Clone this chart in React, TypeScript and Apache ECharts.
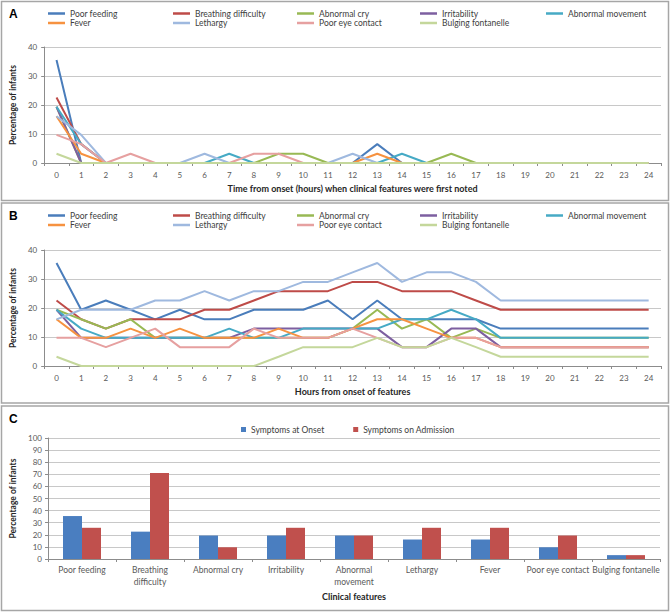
import React, { useEffect, useRef } from "react";
import * as echarts from "echarts";

// ---------- data ----------
const hours = ["0","1","2","3","4","5","6","7","8","9","10","11","12","13","14","15","16","17","18","19","20","21","22","23","24"];
const featureNames = ["Poor feeding","Breathing difficulty","Abnormal cry","Irritability","Abnormal movement","Fever","Lethargy","Poor eye contact","Bulging fontanelle"];
const barCategories = ["Poor feeding","Breathing\ndifficulty","Abnormal cry","Irritability","Abnormal\nmovement","Lethargy","Fever","Poor eye contact","Bulging fontanelle"];
const yTicksLines = [0, 10, 20, 30, 40];

// Panel A: time first noted
const aPoorFeeding = [35.5,0,0,0,0,0,0,0,0,0,0,0,0,6.5,0,0,0,0,0,0,0,0,0,0,0];
const aBreathing = [22.6,6.5,0,0,0,0,0,0,0,0,0,0,0,0,0,0,0,0,0,0,0,0,0,0,0];
const aAbnormalCry = [19.4,0,0,0,0,0,0,0,0,3.2,3.2,0,0,0,0,0,3.2,0,0,0,0,0,0,0,0];
const aIrritability = [19.4,0,0,0,0,0,0,0,0,0,0,0,0,0,0,0,0,0,0,0,0,0,0,0,0];
const aAbnormalMovement = [19.4,6.5,0,0,0,0,0,3.2,0,0,0,0,0,0,3.2,0,0,0,0,0,0,0,0,0,0];
const aFever = [16.1,3.2,0,0,0,0,0,0,0,0,0,0,0,3.2,0,0,0,0,0,0,0,0,0,0,0];
const aLethargy = [16.1,9.7,0,0,0,0,3.2,0,0,0,0,0,3.2,0,0,0,0,0,0,0,0,0,0,0,0];
const aPoorEye = [9.7,6.5,0,3.2,0,0,0,0,3.2,3.2,0,0,0,0,0,0,0,0,0,0,0,0,0,0,0];
const aBulging = [3.2,0,0,0,0,0,0,0,0,0,0,0,0,0,0,0,0,0,0,0,0,0,0,0,0];

// Panel B: hours from onset
const bPoorFeeding = [35.5,19.4,22.6,19.4,16.1,19.4,16.1,16.1,19.4,19.4,19.4,22.6,16.1,22.6,16.1,16.1,16.1,16.1,12.9,12.9,12.9,12.9,12.9,12.9,12.9];
const bBreathing = [22.6,16.1,12.9,16.1,16.1,16.1,19.4,19.4,22.6,25.8,25.8,25.8,29,29,25.8,25.8,25.8,22.6,19.4,19.4,19.4,19.4,19.4,19.4,19.4];
const bAbnormalCry = [19.4,16.1,12.9,16.1,9.7,9.7,9.7,9.7,9.7,9.7,9.7,9.7,12.9,19.4,12.9,16.1,9.7,12.9,9.7,9.7,9.7,9.7,9.7,9.7,9.7];
const bIrritability = [19.4,9.7,9.7,9.7,9.7,9.7,9.7,9.7,12.9,12.9,12.9,12.9,12.9,12.9,6.5,6.5,12.9,12.9,6.5,6.5,6.5,6.5,6.5,6.5,6.5];
const bAbnormalMovement = [19.4,12.9,9.7,9.7,9.7,9.7,9.7,12.9,9.7,9.7,12.9,12.9,12.9,12.9,16.1,16.1,19.4,16.1,9.7,9.7,9.7,9.7,9.7,9.7,9.7];
const bFever = [16.1,9.7,9.7,12.9,9.7,12.9,9.7,9.7,9.7,12.9,9.7,9.7,12.9,16.1,16.1,12.9,9.7,9.7,6.5,6.5,6.5,6.5,6.5,6.5,6.5];
const bLethargy = [16.1,19.4,19.4,19.4,22.6,22.6,25.8,22.6,25.8,25.8,29,29,32.3,35.5,29,32.3,32.3,29,22.6,22.6,22.6,22.6,22.6,22.6,22.6];
const bPoorEye = [9.7,9.7,6.5,9.7,12.9,6.5,6.5,6.5,12.9,9.7,9.7,9.7,12.9,9.7,6.5,6.5,9.7,9.7,6.5,6.5,6.5,6.5,6.5,6.5,6.5];
const bBulging = [3.2,0,0,0,0,0,0,0,0,3.2,6.5,6.5,6.5,9.7,6.5,6.5,9.7,6.5,3.2,3.2,3.2,3.2,3.2,3.2,3.2];

// Panel C
const onsetValues = [35.5,22.6,19.4,19.4,19.4,16.1,16.1,9.7,3.2];
const admissionValues = [25.8,71,9.7,25.8,19.4,25.8,25.8,19.4,3.2];

const seriesA = [aPoorFeeding,aBreathing,aAbnormalCry,aIrritability,aAbnormalMovement,aFever,aLethargy,aPoorEye,aBulging];
const seriesB = [bPoorFeeding,bBreathing,bAbnormalCry,bIrritability,bAbnormalMovement,bFever,bLethargy,bPoorEye,bBulging];

// ---------- styles ----------
const lineColors = ["#4A7DBB","#BE4B48","#98B954","#7D5FA0","#46AAC5","#F69240","#9FB9DF","#E6A0A0","#C4D79B"];
const FONT = "Lato, 'Liberation Sans', sans-serif";
const axisColor = "#8C8C8C";
const labelColor = "#595959";
const gridColor = "#C8C8C8";

const legendCols = [["Poor feeding","Fever"],["Breathing difficulty","Lethargy"],["Abnormal cry","Poor eye contact"],["Irritability","Bulging fontanelle"],["Abnormal movement"]];
const legendColX = [48,173,297,420,546];

export default function App() {
  const ref = useRef<HTMLDivElement>(null);
  useEffect(() => {
    if (!ref.current) return;
    const chart = echarts.init(ref.current, null, { renderer: "svg" });

    const legends: any[] = [];
    [9, 211].forEach((top) => {
      legendCols.forEach((col, ci) => {
        legends.push({
          orient: "vertical",
          left: legendColX[ci],
          top,
          padding: 0,
          itemGap: 0.5,
          itemWidth: 17,
          itemHeight: 2.5,
          icon: "rect",
          selectedMode: false,
          data: col,
          textStyle: { fontSize: 8.5, lineHeight: 9, color: "#404040", fontFamily: FONT },
        });
      });
    });
    legends.push({
      orient: "horizontal",
      left: 241,
      top: 425,
      padding: 0,
      itemGap: 29,
      itemWidth: 5,
      itemHeight: 5,
      icon: "rect",
      selectedMode: false,
      data: ["Symptoms at Onset", "Symptoms on Admission"],
      textStyle: { fontSize: 8.5, color: "#404040", fontFamily: FONT },
    });

    const lineX = (gi: number, name: string) => ({
      gridIndex: gi,
      type: "category",
      data: hours,
      boundaryGap: true,
      axisLine: { show: true, lineStyle: { color: axisColor } },
      axisTick: { show: true, length: 3, lineStyle: { color: axisColor } },
      axisLabel: { interval: 0, fontSize: 8, color: labelColor, margin: 8, fontFamily: FONT },
      name,
      nameLocation: "middle",
      nameGap: 20.5,
      nameTextStyle: { fontSize: 9, fontWeight: "bold", color: "#262626", fontFamily: FONT },
    });
    const lineY = (gi: number) => ({
      gridIndex: gi,
      type: "value",
      min: yTicksLines[0],
      max: yTicksLines[yTicksLines.length - 1],
      interval: 10,
      axisLine: { show: true, lineStyle: { color: axisColor } },
      axisTick: { show: true, length: 3, lineStyle: { color: axisColor } },
      axisLabel: { fontSize: 8, color: labelColor, margin: 7, fontFamily: FONT },
      splitLine: { show: true, lineStyle: { color: gridColor, width: 1.2 } },
      name: "Percentage of infants",
      nameLocation: "middle",
      nameGap: 22,
      nameTextStyle: { fontSize: 8.5, fontWeight: "bold", color: "#262626", fontFamily: FONT },
    });

    const series: any[] = [];
    [seriesA, seriesB].forEach((set, gi) => {
      set.forEach((vals, i) => {
        series.push({
          type: "line",
          name: featureNames[i],
          xAxisIndex: gi,
          yAxisIndex: gi,
          data: vals,
          symbol: "none",
          color: lineColors[i],
          lineStyle: { width: 2, color: lineColors[i] },
        });
      });
    });
    series.push({
      type: "bar",
      name: "Symptoms at Onset",
      xAxisIndex: 2,
      yAxisIndex: 2,
      data: onsetValues,
      barWidth: 19,
      barGap: "0%",
      color: "#4A7EC0",
    });
    series.push({
      type: "bar",
      name: "Symptoms on Admission",
      xAxisIndex: 2,
      yAxisIndex: 2,
      data: admissionValues,
      barWidth: 19,
      barGap: "0%",
      color: "#C0504D",
    });

    const panelBorder = { stroke: "#A6A6A6", lineWidth: 1.5, fill: "#ffffff" };
    chart.setOption({
      animation: false,
      backgroundColor: "#ffffff",
      textStyle: { fontFamily: FONT },
      graphic: [
        { type: "rect", z: -10, shape: { x: 1.5, y: 1.5, width: 667, height: 199 }, style: panelBorder },
        { type: "rect", z: -10, shape: { x: 1.5, y: 203, width: 667, height: 200 }, style: panelBorder },
        { type: "rect", z: -10, shape: { x: 1.5, y: 406, width: 667, height: 204.5 }, style: panelBorder },
        { type: "text", left: 9, top: 8, style: { text: "A", fontSize: 12, fontWeight: "bold", fill: "#000", fontFamily: "'Liberation Sans', Arial, sans-serif" } },
        { type: "text", left: 9, top: 210, style: { text: "B", fontSize: 12, fontWeight: "bold", fill: "#000", fontFamily: "'Liberation Sans', Arial, sans-serif" } },
        { type: "text", left: 9, top: 413, style: { text: "C", fontSize: 12, fontWeight: "bold", fill: "#000", fontFamily: "'Liberation Sans', Arial, sans-serif" } },
      ],
      legend: legends,
      grid: [
        { left: 42, top: 47, width: 619, height: 116 },
        { left: 42, top: 250, width: 619, height: 116 },
        { left: 48, top: 438, width: 612, height: 121 },
      ],
      xAxis: [
        lineX(0, "Time from onset (hours) when clinical features were first noted"),
        lineX(1, "Hours from onset of features"),
        {
          gridIndex: 2,
          type: "category",
          data: barCategories,
          axisLine: { show: true, lineStyle: { color: axisColor } },
          axisTick: { show: true, length: 3, lineStyle: { color: axisColor } },
          axisLabel: { interval: 0, fontSize: 8.5, color: labelColor, margin: 5, lineHeight: 12, fontFamily: FONT },
          name: "Clinical features",
          nameLocation: "middle",
          nameGap: 33,
          nameTextStyle: { fontSize: 9, fontWeight: "bold", color: "#262626", fontFamily: FONT },
        },
      ],
      yAxis: [
        lineY(0),
        lineY(1),
        {
          gridIndex: 2,
          type: "value",
          min: 0,
          max: 100,
          interval: 10,
          axisLine: { show: true, lineStyle: { color: axisColor } },
          axisTick: { show: true, length: 3, lineStyle: { color: axisColor } },
          axisLabel: { fontSize: 8, color: labelColor, margin: 6, fontFamily: FONT },
          splitLine: { show: true, lineStyle: { color: gridColor, width: 1.2 } },
          name: "Percentage of infants",
          nameLocation: "middle",
          nameGap: 26,
          nameTextStyle: { fontSize: 8.5, fontWeight: "bold", color: "#262626", fontFamily: FONT },
        },
      ],
      series,
    });
    return () => chart.dispose();
  }, []);
  return (
    <div
      ref={ref}
      style={{ position: "fixed", left: 0, top: 0, width: 671, height: 612, background: "#fff" }}
    />
  );
}
